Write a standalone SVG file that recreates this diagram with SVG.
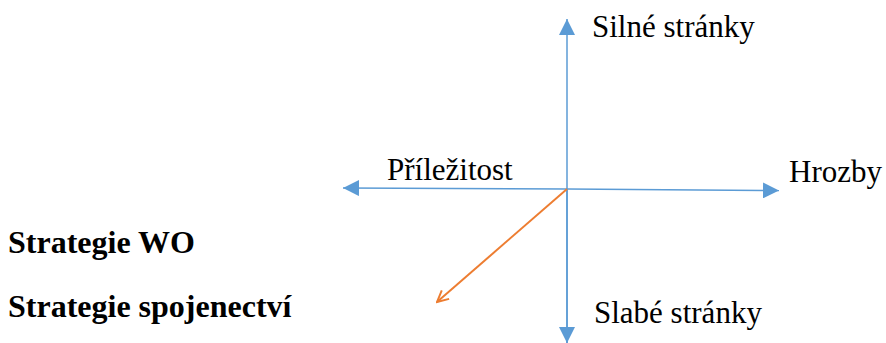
<svg xmlns="http://www.w3.org/2000/svg" width="886" height="343" viewBox="0 0 886 343">
<style>
text{font-family:"Liberation Serif","Times New Roman",serif;font-size:31px;fill:#000}
.b{font-weight:bold;font-size:32px}
.ax{stroke:#5B9BD5;stroke-width:1.5;fill:none}
.or{stroke:#ED7D31;stroke-width:2;fill:none}
</style>
<defs>
<marker id="tri" viewBox="0 0 10 10" refX="10" refY="5" markerWidth="16" markerHeight="16" markerUnits="userSpaceOnUse" orient="auto">
<path d="M0,0 L10,5 L0,10 z" fill="#5B9BD5"/>
</marker>
<marker id="open" viewBox="0 0 10 10" refX="9" refY="5" markerWidth="14" markerHeight="14" markerUnits="userSpaceOnUse" orient="auto">
<path d="M1,1 L9,5 L1,9" fill="none" stroke="#ED7D31" stroke-width="1.4"/>
</marker>
</defs>
<g id="connectors">
<line class="ax" x1="567" y1="343" x2="567" y2="19" marker-end="url(#tri)"/>
<line class="ax" x1="567" y1="190" x2="567" y2="343" marker-end="url(#tri)"/>
<line class="ax" x1="567" y1="189" x2="343" y2="188" marker-end="url(#tri)"/>
<line class="ax" x1="567" y1="189" x2="779" y2="190.5" marker-end="url(#tri)"/>
<line class="or" x1="567" y1="189" x2="437" y2="302" marker-end="url(#open)"/>
</g>
<g id="silne"><text x="592" y="37">Silné stránky</text></g>
<g id="prilezitost"><text x="387" y="180">Příležitost</text></g>
<g id="hrozby"><text x="789" y="182">Hrozby</text></g>
<g id="slabe"><text x="594" y="323">Slabé stránky</text></g>
<g id="strategie-wo"><text class="b" x="8" y="253">Strategie WO</text></g>
<g id="strategie-spoj"><text class="b" x="8" y="317">Strategie spojenectví</text></g>
</svg>
